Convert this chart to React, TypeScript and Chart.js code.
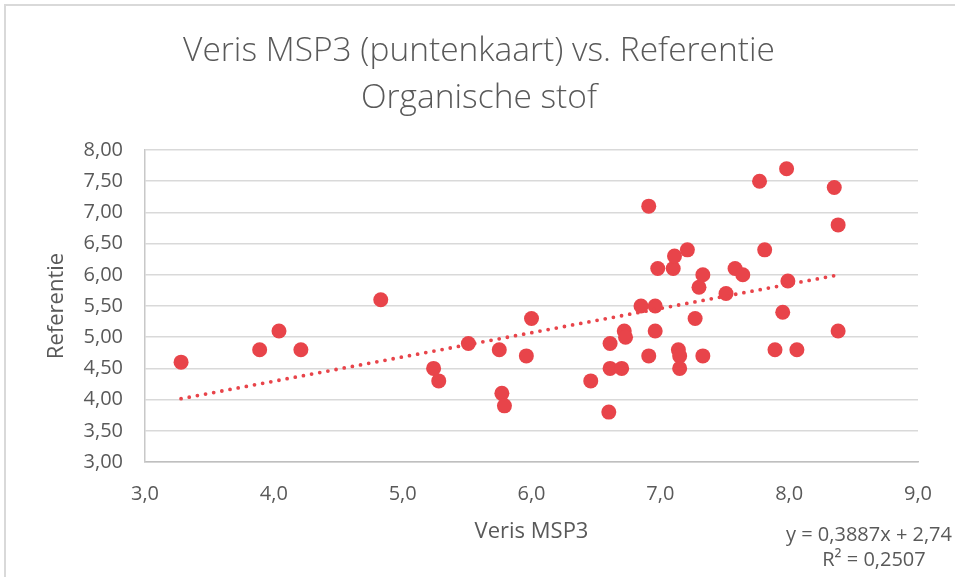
import React, { useEffect, useRef } from "react";
import { Chart, registerables } from "chart.js";

Chart.register(...registerables);

const chartTitle = ["Veris MSP3 (puntenkaart) vs. Referentie", "Organische stof"];
const xAxisTitle = "Veris MSP3";
const yAxisTitle = "Referentie";

const xValues = [
  3.28, 3.89, 4.04, 4.21, 4.83, 5.24, 5.28, 5.51, 5.75, 5.77, 5.79, 5.96, 6.0,
  6.46, 6.6, 6.61, 6.61, 6.7, 6.72, 6.73, 6.85, 6.91, 6.91, 6.96, 6.96, 6.98,
  7.1, 7.11, 7.14, 7.15, 7.15, 7.21, 7.27, 7.3, 7.33, 7.33, 7.51, 7.58, 7.64,
  7.77, 7.81, 7.89, 7.95, 7.98, 7.99, 8.06, 8.35, 8.38, 8.38,
];
const yValues = [
  4.6, 4.8, 5.1, 4.8, 5.6, 4.5, 4.3, 4.9, 4.8, 4.1, 3.9, 4.7, 5.3,
  4.3, 3.8, 4.9, 4.5, 4.5, 5.1, 5.0, 5.5, 7.1, 4.7, 5.5, 5.1, 6.1,
  6.1, 6.3, 4.8, 4.7, 4.5, 6.4, 5.3, 5.8, 6.0, 4.7, 5.7, 6.1, 6.0,
  7.5, 6.4, 4.8, 5.4, 7.7, 5.9, 4.8, 7.4, 6.8, 5.1,
];

const trendSlope = 0.3887;
const trendIntercept = 2.74;
const equationLines = ["y = 0,3887x + 2,74", "R² = 0,2507"];

const xMin = 3;
const xMax = 9;
const xStep = 1;
const yMin = 3;
const yMax = 8;
const yStep = 0.5;

const RED = "#E8444A";
const TEXT = "#595959";
const FONT = "'Open Sans', sans-serif";

export default function App() {
  const canvasRef = useRef<HTMLCanvasElement | null>(null);

  useEffect(() => {
    const canvas = canvasRef.current;
    if (!canvas) return;

    const points = xValues.map((x, i) => ({ x, y: yValues[i] }));
    const tx0 = Math.min(...xValues);
    const tx1 = Math.max(...xValues);
    const trend = [
      { x: tx0, y: trendSlope * tx0 + trendIntercept },
      { x: tx1, y: trendSlope * tx1 + trendIntercept },
    ];

    const framePlugin = {
      id: "frame",
      beforeDraw(chart: any) {
        const ctx = chart.ctx;
        ctx.save();
        ctx.strokeStyle = "#D9D9D9";
        ctx.lineWidth = 2;
        ctx.beginPath();
        ctx.moveTo(5, chart.height);
        ctx.lineTo(5, 5);
        ctx.lineTo(chart.width, 5);
        ctx.stroke();
        ctx.restore();
      },
    };

    const equationPlugin = {
      id: "equation",
      afterDraw(chart: any) {
        const ctx = chart.ctx;
        ctx.save();
        ctx.fillStyle = TEXT;
        ctx.font = `20px ${FONT}`;
        ctx.textAlign = "center";
        ctx.textBaseline = "middle";
        ctx.fillText(equationLines[0], 869, 535);
        ctx.fillText(equationLines[1], 874, 560);
        ctx.restore();
      },
    };

    const chart = new Chart(canvas, {
      type: "scatter",
      data: {
        datasets: [
          {
            label: "Trend",
            type: "line",
            data: trend,
            borderColor: RED,
            borderWidth: 3.8,
            borderDash: [0, 8.3],
            borderCapStyle: "round",
            pointRadius: 0,
            fill: false,
            order: 0,
          } as any,
          {
            label: "Data",
            data: points,
            backgroundColor: RED,
            borderColor: RED,
            borderWidth: 0,
            pointRadius: 7.5,
            pointHoverRadius: 7.5,
            order: 1,
          },
        ],
      },
      options: {
        responsive: false,
        animation: false,
        layout: { padding: { top: 5, left: 3, right: 0, bottom: 0 } },
        plugins: {
          legend: { display: false },
          tooltip: { enabled: false },
          title: {
            display: true,
            text: chartTitle,
            color: TEXT,
            font: { family: FONT, size: 33.5, weight: "300" as any, lineHeight: 47 / 33.5 },
            padding: { top: 23, bottom: 28 },
          },
        },
        scales: {
          x: {
            type: "linear",
            min: xMin,
            max: xMax,
            afterFit(scale: any) {
              scale.height = 115;
            },
            ticks: {
              stepSize: xStep,
              color: TEXT,
              padding: 20,
              font: { family: FONT, size: 20 },
              callback: (v: any) => Number(v).toFixed(1).replace(".", ","),
            },
            grid: { display: false, drawTicks: false },
            border: { display: true, color: "#BFBFBF", width: 1.5 },
            title: {
              display: true,
              text: xAxisTitle,
              color: TEXT,
              font: { family: FONT, size: 22 },
              padding: { top: 0, bottom: 32 },
            },
          },
          y: {
            type: "linear",
            min: yMin,
            max: yMax,
            afterFit(scale: any) {
              scale.width = 142;
            },
            ticks: {
              stepSize: yStep,
              color: TEXT,
              padding: 22,
              font: { family: FONT, size: 20 },
              callback: (v: any) => Number(v).toFixed(2).replace(".", ","),
            },
            grid: { color: "#D9D9D9", lineWidth: 1.5, drawTicks: false },
            border: { display: true, color: "#C8C8C8", width: 1.5 },
            title: {
              display: true,
              text: yAxisTitle,
              color: TEXT,
              font: { family: FONT, size: 22 },
              padding: { top: 40.8, bottom: 0 },
            },
          },
          yRightSpace: {
            type: "linear",
            position: "right",
            min: yMin,
            max: yMax,
            afterFit(scale: any) {
              scale.width = 37;
            },
            ticks: { display: false },
            grid: { display: false, drawTicks: false },
            border: { display: false },
          },
        },
      },
      plugins: [framePlugin, equationPlugin],
    });

    return () => chart.destroy();
  }, []);

  return (
    <div style={{ position: "fixed", left: 0, top: 0, width: 955, height: 577, background: "#fff" }}>
      <canvas ref={canvasRef} width={955} height={577} />
    </div>
  );
}
